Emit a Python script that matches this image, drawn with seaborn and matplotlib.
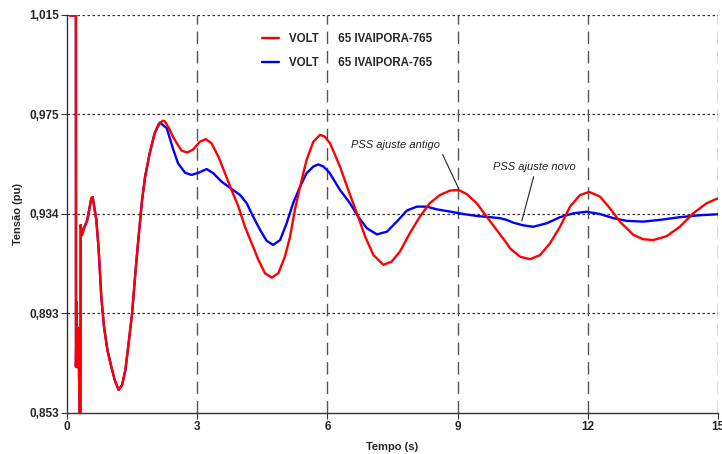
import numpy as np
import pandas as pd
import matplotlib
matplotlib.use("Agg")
import matplotlib.pyplot as plt
import seaborn as sns
from matplotlib.lines import Line2D

# ---- data ----
# shared initial transient (both curves coincide)
early_t = [0.07, 0.205, 0.207, 0.222, 0.238, 0.255, 0.275, 0.295, 0.310, 0.315, 0.346,
           0.392, 0.468, 0.56, 0.59, 0.62, 0.676, 0.73, 0.79, 0.853, 0.93, 1.02, 1.10,
           1.19, 1.27, 1.345, 1.42, 1.50, 1.575, 1.65, 1.73, 1.80, 1.905, 2.02]
early_v = [1.0148, 1.0148, 0.8717, 0.8982, 0.8717, 0.8876, 0.8725, 0.845, 0.845, 0.9295, 0.9255,
           0.9282, 0.9316, 0.9404, 0.9409, 0.9377, 0.9316, 0.9194, 0.9003, 0.8881, 0.8787, 0.8719, 0.8664,
           0.8624, 0.8644, 0.8705, 0.8814, 0.8936, 0.9099, 0.9248, 0.9397, 0.9492, 0.9587, 0.9669]

# PSS ajuste antigo (red)
red_t = [2.11, 2.21, 2.26, 2.37, 2.44, 2.53, 2.64, 2.77, 2.91, 3.06, 3.20, 3.33, 3.49, 3.64,
         3.79, 3.95, 4.10, 4.255, 4.41, 4.56, 4.72, 4.87, 5.02, 5.14, 5.25, 5.37, 5.52, 5.675,
         5.83, 5.94, 6.06, 6.29, 6.48, 6.68, 6.87, 7.06, 7.29, 7.48, 7.67, 7.90, 8.13, 8.36,
         8.59, 8.82, 9.02, 9.21, 9.44, 9.67, 9.90, 10.13, 10.21, 10.44, 10.67, 10.90, 11.13,
         11.36, 11.59, 11.82, 12.03, 12.28, 12.51, 12.74, 13.05, 13.28, 13.51, 13.82, 14.12,
         14.43, 14.74, 15.0]
red_v = [0.9706, 0.9720, 0.9716, 0.9682, 0.9655, 0.9628, 0.9598, 0.9590, 0.9603, 0.9634, 0.9645, 0.9628, 0.9573, 0.9506,
         0.9438, 0.9370, 0.9288, 0.9221, 0.9153, 0.9099, 0.9081, 0.9099, 0.9166, 0.9248, 0.9356, 0.9451, 0.9560, 0.9634,
         0.9662, 0.9655, 0.9628, 0.9533, 0.9438, 0.9343, 0.9248, 0.9173, 0.9133, 0.9146, 0.9187, 0.9262, 0.9329, 0.9384,
         0.9417, 0.9435, 0.9438, 0.9421, 0.9384, 0.9329, 0.9275, 0.9221, 0.9200, 0.9166, 0.9156, 0.9173, 0.9221,
         0.9288, 0.9370, 0.9417, 0.9430, 0.9411, 0.9363, 0.9309, 0.9255, 0.9237, 0.9234, 0.9250, 0.9288,
         0.9343, 0.9384, 0.9404]

# PSS ajuste novo (blue)
blue_t = [2.14, 2.30, 2.45, 2.56, 2.72, 2.87, 3.03, 3.22, 3.37, 3.56, 3.79, 3.99, 4.14, 4.29,
          4.45, 4.60, 4.75, 4.91, 5.06, 5.21, 5.37, 5.52, 5.675, 5.79, 5.91, 6.04, 6.29, 6.52,
          6.71, 6.91, 7.14, 7.37, 7.60, 7.83, 8.06, 8.29, 8.52, 8.82, 9.13, 9.44, 9.75, 9.98,
          10.13, 10.28, 10.51, 10.74, 11.05, 11.36, 11.67, 11.97, 12.28, 12.59, 12.90, 13.28,
          13.66, 14.12, 14.59, 15.0]
blue_v = [0.9712, 0.9689, 0.9601, 0.9546, 0.9508, 0.9499, 0.9508, 0.9523, 0.9506, 0.9472, 0.9442, 0.9417, 0.9384, 0.9329,
          0.9275, 0.9231, 0.9214, 0.9234, 0.9302, 0.9384, 0.9451, 0.9506, 0.9533, 0.9542, 0.9533, 0.9510, 0.9438, 0.9384,
          0.9329, 0.9282, 0.9257, 0.9268, 0.9309, 0.9354, 0.9370, 0.9370, 0.9359, 0.9350, 0.9340, 0.9332, 0.9327, 0.9323,
          0.9316, 0.9305, 0.9294, 0.9288, 0.9302, 0.9327, 0.9343, 0.9349, 0.9340, 0.9323, 0.9312, 0.9309,
          0.9316, 0.9327, 0.9335, 0.9339]

legend_labels = ["VOLT", "VOLT"]
legend_bus = ["65 IVAIPORA-765", "65 IVAIPORA-765"]
annotation_texts = ["PSS ajuste antigo", "PSS ajuste novo"]
x_ticks = [0, 3, 6, 9, 12, 15]
y_tick_labels = ["0,853", "0,893", "0,934", "0,975", "1,015"]
y_min, y_max = 0.853, 1.015

df = pd.concat([
    pd.DataFrame({"t": early_t + blue_t, "v": early_v + blue_v, "s": "novo"}),
    pd.DataFrame({"t": early_t + red_t, "v": early_v + red_v, "s": "antigo"}),
], ignore_index=True)

sns.set_style("ticks")
plt.rcParams["font.family"] = ["Liberation Sans", "DejaVu Sans"]

fig = plt.figure(figsize=(7.22, 4.54), dpi=100)
ax = fig.add_axes([67/722, 1-413/454, 651/722, 398/454])

palette = {"antigo": "#FF0000", "novo": "#0000FF"}
for name in ["novo", "antigo"]:
    sns.lineplot(data=df[df.s == name], x="t", y="v", color=palette[name],
                 sort=False, estimator=None, lw=1.7, ax=ax,
                 zorder=3 if name == "antigo" else 2)

ax.set_xlim(0, 15)
ax.set_ylim(y_min, y_max)
yt = np.linspace(y_min, y_max, 5)
ax.set_yticks(yt)
ax.set_yticklabels(y_tick_labels)
ax.set_xticks(x_ticks)
ax.set_xticklabels([str(v) for v in x_ticks])

for y in yt[1:]:
    ax.axhline(y, color="#333333", lw=0.9, ls=(0, (2, 2)), zorder=1)
for x in x_ticks[1:]:
    ax.axvline(x, color="#555555", lw=1.0, ls=(0, (9, 5)), zorder=1)

for s in ["top", "right"]:
    ax.spines[s].set_visible(False)
for s in ["left", "bottom"]:
    ax.spines[s].set_color("#333333")
    ax.spines[s].set_linewidth(1.0)

ax.tick_params(axis="both", labelsize=8.5, length=4, color="#333333", pad=2)
for lbl in ax.get_xticklabels() + ax.get_yticklabels():
    lbl.set_fontweight("bold")

ax.set_xlabel("Tempo (s)", fontsize=8, fontweight="bold", labelpad=6)
ax.set_ylabel("Tensão (pu)", fontsize=8, fontweight="bold", labelpad=4)

handles = [Line2D([], [], color="#FF0000", lw=1.7), Line2D([], [], color="#0000FF", lw=1.7)]
labels = [f"{a}      {b}" for a, b in zip(legend_labels, legend_bus)]
leg = ax.legend(handles, labels, loc="upper left", bbox_to_anchor=(0.283, 0.982), frameon=False,
                fontsize=8.3, handlelength=1.5, handletextpad=0.9, labelspacing=1.05)
for t in leg.get_texts():
    t.set_fontweight("bold")

ax.annotate(annotation_texts[0], xy=(9.02, 0.9445), xytext=(7.58, 0.9621), fontsize=8,
            style="italic", ha="center", va="center", color="#222222",
            arrowprops=dict(arrowstyle="-", color="#222222", lw=0.8, shrinkA=1, shrinkB=0,
                            relpos=(1.0, 0.0)))
ax.annotate(annotation_texts[1], xy=(10.48, 0.9312), xytext=(10.78, 0.9531), fontsize=8,
            style="italic", ha="center", va="center", color="#222222",
            arrowprops=dict(arrowstyle="-", color="#222222", lw=0.8, shrinkA=1, shrinkB=0,
                            relpos=(0.5, 0.0)))

fig.savefig("out.png", dpi=100)
